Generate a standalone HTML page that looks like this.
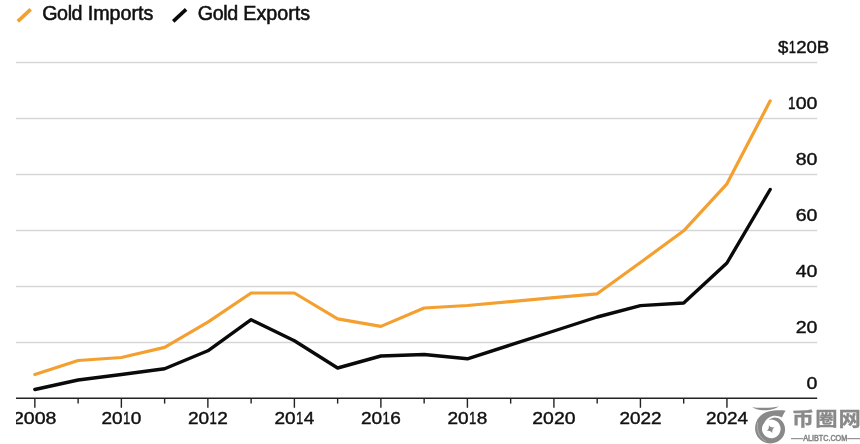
<!DOCTYPE html>
<html lang="en">
<head>
<meta charset="utf-8">
<title>Gold Imports and Gold Exports</title>
<style>
html,body{margin:0;padding:0;background:#fff;}
body{width:860px;height:444px;overflow:hidden;position:relative;font-family:"Liberation Sans","Noto Sans CJK SC",sans-serif;}
svg{position:absolute;left:0;top:0;display:block;}
text{font-family:"Liberation Sans","Noto Sans CJK SC",sans-serif;fill:#111;}
.leg{font-size:19.7px;stroke:#111;stroke-width:0.55px;}
.tight{letter-spacing:-0.4px;}
.ax{font-size:16.6px;stroke:#111;stroke-width:0.4px;}
.grid line{stroke:#d6d6d6;stroke-width:1.7;}
.axis line{stroke:#222;stroke-width:1.4;}
</style>
</head>
<body>
<svg width="860" height="444" viewBox="0 0 860 444">
  <defs><clipPath id="plot"><rect x="16" y="0" width="844" height="444"/></clipPath></defs>
  <rect width="860" height="444" fill="#fff"/>
  <!-- legend -->
  <line x1="17.8" y1="21.4" x2="30.7" y2="9.4" stroke="#f4a030" stroke-width="3.6"/>
  <text class="leg" x="42.2" y="19.85"><tspan class="tight">Gold</tspan> Imports</text>
  <line x1="173.2" y1="21.4" x2="186.1" y2="9.4" stroke="#0a0a0a" stroke-width="3.6"/>
  <text class="leg" x="197.8" y="19.85"><tspan class="tight">Gold</tspan> Exports</text>
  <!-- gridlines -->
  <g class="grid">
    <line x1="16" y1="62.5" x2="817.2" y2="62.5"/>
    <line x1="16" y1="118.5" x2="817.2" y2="118.5"/>
    <line x1="16" y1="174.5" x2="817.2" y2="174.5"/>
    <line x1="16" y1="230.5" x2="817.2" y2="230.5"/>
    <line x1="16" y1="286.5" x2="817.2" y2="286.5"/>
    <line x1="16" y1="342.5" x2="817.2" y2="342.5"/>
  </g>
  <!-- y labels -->
  <g>
    <text transform="translate(829.2,53.3) scale(1.12,1.0)" class="ax" aria-label="$120B"><tspan x="-45.76">$</tspan><tspan x="-36.18" textLength="6.4" lengthAdjust="spacingAndGlyphs">1</tspan><tspan x="-29.53">20B</tspan></text>
    <text transform="translate(817.5,109.4) scale(1.18,1.0)" class="ax" aria-label="100"><tspan x="-25.11" textLength="6.4" lengthAdjust="spacingAndGlyphs">1</tspan><tspan x="-18.46">00</tspan></text>
    <text transform="translate(817.5,165.4) scale(1.18,1.0)" class="ax" aria-label="80"><tspan x="-18.46">80</tspan></text>
    <text transform="translate(817.5,221.4) scale(1.18,1.0)" class="ax" aria-label="60"><tspan x="-18.46">60</tspan></text>
    <text transform="translate(817.5,277.4) scale(1.18,1.0)" class="ax" aria-label="40"><tspan x="-18.46">40</tspan></text>
    <text transform="translate(817.5,333.4) scale(1.18,1.0)" class="ax" aria-label="20"><tspan x="-18.46">20</tspan></text>
    <text transform="translate(817.5,389.4) scale(1.18,1.0)" class="ax" aria-label="0"><tspan x="-9.23">0</tspan></text>
  </g>
  <!-- series -->
  <polyline fill="none" stroke="#f4a030" stroke-width="3.2" stroke-linejoin="round" stroke-linecap="round" points="34.85,374.5 78.11,360.5 121.36,357.5 164.62,347.4 207.87,322.1 251.12,293 294.38,293 337.64,318.8 380.89,326.4 424.15,308 467.4,305.5 510.66,301.6 553.91,297.7 597.17,293.8 640.42,262.5 683.68,230.8 726.93,183.8 770.19,100.8"/>
  <polyline fill="none" stroke="#0a0a0a" stroke-width="3.4" stroke-linejoin="round" stroke-linecap="round" points="34.85,389.5 78.11,380 121.36,374.5 164.62,368.8 207.87,350.8 251.12,319.7 294.38,340.8 337.64,368 380.89,356 424.15,354.5 467.4,358.8 510.66,344.9 553.91,331 597.17,317 640.42,305.6 683.68,303 726.93,263 770.19,189.5"/>
  <!-- x axis -->
  <g class="axis">
    <line x1="16" y1="398.3" x2="817.2" y2="398.3"/>
    <line x1="34.85" y1="398" x2="34.85" y2="407.8"/>
    <line x1="78.11" y1="398" x2="78.11" y2="403.6"/>
    <line x1="121.36" y1="398" x2="121.36" y2="407.8"/>
    <line x1="164.62" y1="398" x2="164.62" y2="403.6"/>
    <line x1="207.87" y1="398" x2="207.87" y2="407.8"/>
    <line x1="251.12" y1="398" x2="251.12" y2="403.6"/>
    <line x1="294.38" y1="398" x2="294.38" y2="407.8"/>
    <line x1="337.64" y1="398" x2="337.64" y2="403.6"/>
    <line x1="380.89" y1="398" x2="380.89" y2="407.8"/>
    <line x1="424.15" y1="398" x2="424.15" y2="403.6"/>
    <line x1="467.4" y1="398" x2="467.4" y2="407.8"/>
    <line x1="510.66" y1="398" x2="510.66" y2="403.6"/>
    <line x1="553.91" y1="398" x2="553.91" y2="407.8"/>
    <line x1="597.17" y1="398" x2="597.17" y2="403.6"/>
    <line x1="640.42" y1="398" x2="640.42" y2="407.8"/>
    <line x1="683.68" y1="398" x2="683.68" y2="403.6"/>
    <line x1="726.93" y1="398" x2="726.93" y2="407.8"/>
  </g>
  <g clip-path="url(#plot)">
    <text transform="translate(34.75,424.4) scale(1.18,0.97)" class="ax" aria-label="2008"><tspan x="-18.46">2008</tspan></text>
    <text transform="translate(121.36,424.4) scale(1.145,0.97)" class="ax" aria-label="2010"><tspan x="-17.34">20</tspan><tspan x="1.46" textLength="6.4" lengthAdjust="spacingAndGlyphs">1</tspan><tspan x="8.11">0</tspan></text>
    <text transform="translate(207.87,424.4) scale(1.145,0.97)" class="ax" aria-label="2012"><tspan x="-17.34">20</tspan><tspan x="1.46" textLength="6.4" lengthAdjust="spacingAndGlyphs">1</tspan><tspan x="8.11">2</tspan></text>
    <text transform="translate(294.38,424.4) scale(1.145,0.97)" class="ax" aria-label="2014"><tspan x="-17.34">20</tspan><tspan x="1.46" textLength="6.4" lengthAdjust="spacingAndGlyphs">1</tspan><tspan x="8.11">4</tspan></text>
    <text transform="translate(380.89,424.4) scale(1.145,0.97)" class="ax" aria-label="2016"><tspan x="-17.34">20</tspan><tspan x="1.46" textLength="6.4" lengthAdjust="spacingAndGlyphs">1</tspan><tspan x="8.11">6</tspan></text>
    <text transform="translate(467.4,424.4) scale(1.145,0.97)" class="ax" aria-label="2018"><tspan x="-17.34">20</tspan><tspan x="1.46" textLength="6.4" lengthAdjust="spacingAndGlyphs">1</tspan><tspan x="8.11">8</tspan></text>
    <text transform="translate(553.91,424.4) scale(1.17,0.97)" class="ax" aria-label="2020"><tspan x="-18.46">2020</tspan></text>
    <text transform="translate(640.42,424.4) scale(1.14,0.97)" class="ax" aria-label="2022"><tspan x="-18.46">2022</tspan></text>
    <text transform="translate(726.93,424.4) scale(1.14,0.97)" class="ax" aria-label="2024"><tspan x="-18.46">2024</tspan></text>
  </g>
  <!-- watermark -->
  <g fill="#898989">
    <path d="M752.2,406.9 C758,408.1 771,408.3 779,406.5 C775.4,409.0 768.5,410.4 763.6,410.2 C758.6,410.0 754.4,408.8 752.2,406.9 Z"/>
    <path d="M785.7,410.7 C780,410.0 773.5,410.4 768.5,411.5 C760,413.4 755.1,420.3 755.1,428.6 C755.1,437.0 762,443.4 770.5,443.4 C778.8,443.4 785.1,437.3 785.1,429.6 C785.1,424.4 782.3,419.9 777.8,418.0 C774.8,416.9 771.3,417.6 768.6,420.0 A9.3,9.3 0 1 1 764.2,422.9 C765.8,419.6 769,417.0 772.5,416.0 C775.6,415.2 779.2,415.9 782.0,417.5 C782.9,415.0 784.2,412.6 785.7,410.7 Z"/>
    <path d="M757.6,422.5 C756.4,430 759,437.5 766,441.4" fill="none" stroke="#fff" stroke-width="0.5" stroke-opacity="0.6"/>
    <path transform="translate(770.6,429.1) rotate(-25)" d="M0,-4.3 C0.7,-1.8 1.8,-0.7 4.3,0 C1.8,0.7 0.7,1.8 0,4.3 C-0.7,1.8 -1.8,0.7 -4.3,0 C-1.8,-0.7 -0.7,-1.8 0,-4.3 Z"/>
    <text transform="translate(791.8,426.2) scale(1,0.87)" style="font-size:22.3px;font-weight:bold;fill:#898989;stroke:#898989;stroke-width:0.35px;letter-spacing:1.1px;">币圈网</text>
    <text transform="translate(825.2,440.8) scale(0.88,1)" text-anchor="middle" style="font-size:8.2px;fill:#848484;stroke:#848484;stroke-width:0.5px;">ALIBTC.COM</text>
    <rect x="791" y="438.1" width="12.4" height="1.1"/>
    <rect x="847.2" y="438.1" width="12.8" height="1.1"/>
  </g>
</svg>
</body>
</html>
